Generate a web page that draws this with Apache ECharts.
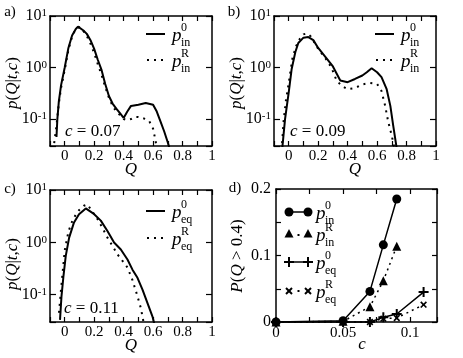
<!DOCTYPE html>
<html><head><meta charset="utf-8">
<script src="https://cdn.jsdelivr.net/npm/echarts@6/dist/echarts.min.js"></script>
<style>html,body{margin:0;padding:0;background:#fff}#c{width:463px;height:358px}</style>
</head><body><div id="c"></div>
<script>
// ---- data ----
const qA0 = [-0.056,-0.05,-0.04,-0.025,0,0.025,0.05,0.075,0.09,0.1,0.125,0.15,0.175,0.2,0.225,0.25,0.275,0.3,0.325,0.35,0.375,0.4,0.425,0.45,0.5,0.55,0.6,0.625,0.65,0.675,0.7,0.725];
const pA0 = [0.045,0.1,0.22,0.45,1.0,2.4,4.2,5.6,6.2,6.0,5.3,4.5,3.4,2.3,1.4,0.9,0.48,0.28,0.2,0.16,0.13,0.105,0.14,0.18,0.19,0.205,0.19,0.14,0.09,0.058,0.035,0.02];
const qAR = [-0.078,-0.06,-0.04,-0.025,0,0.025,0.05,0.075,0.1,0.125,0.15,0.175,0.2,0.225,0.25,0.275,0.3,0.325,0.35,0.375,0.4,0.425,0.45,0.475,0.5,0.525,0.55,0.575,0.6,0.615,0.628];
const pAR = [0.025,0.06,0.2,0.4,0.9,2.2,4.0,5.6,6.1,5.2,4.1,2.9,1.9,1.15,0.72,0.42,0.26,0.18,0.14,0.12,0.1,0.095,0.1,0.11,0.11,0.105,0.1,0.09,0.065,0.04,0.025];

const qB0 = [-0.045,-0.025,0,0.02,0.045,0.065,0.1,0.133,0.167,0.2,0.25,0.3,0.35,0.4,0.45,0.5,0.53,0.563,0.6,0.63,0.665,0.69,0.71,0.735];
const pB0 = [0.025,0.1,0.33,0.94,2.0,3.0,3.8,3.9,3.4,2.4,1.6,1.05,0.56,0.52,0.6,0.7,0.81,0.97,0.81,0.65,0.38,0.18,0.073,0.025];
const qBR = [-0.048,-0.035,-0.02,0,0.025,0.05,0.075,0.1,0.125,0.15,0.2,0.25,0.29,0.325,0.36,0.4,0.45,0.5,0.55,0.6,0.63,0.655,0.675,0.7,0.72];
const pBR = [0.025,0.09,0.22,0.5,1.5,2.6,3.6,4.4,4.6,4.0,2.3,1.5,1.0,0.56,0.44,0.38,0.4,0.47,0.5,0.48,0.35,0.18,0.09,0.047,0.025];

const qC0 = [-0.032,-0.022,-0.009,0.007,0.03,0.063,0.097,0.143,0.2,0.245,0.29,0.335,0.381,0.426,0.46,0.494,0.528,0.562,0.596,0.612];
const pC0 = [0.033,0.093,0.22,0.55,1.23,2.4,3.45,4.45,3.45,2.6,1.65,0.99,0.73,0.47,0.3,0.21,0.125,0.069,0.038,0.025];
const qCR = [-0.039,-0.027,-0.015,0,0.025,0.05,0.075,0.1,0.13,0.154,0.19,0.222,0.26,0.29,0.325,0.358,0.39,0.426,0.46,0.494,0.517,0.535];
const pCR = [0.045,0.11,0.25,0.7,1.6,2.5,3.4,4.2,5.0,5.3,3.8,2.8,1.8,1.23,0.85,0.59,0.45,0.33,0.19,0.093,0.055,0.03];

const cIn  = [0,0.05,0.07,0.08,0.09];
const pIn0 = [0,0.002,0.046,0.116,0.185];
const pInR = [0,0.001,0.023,0.062,0.114];
const cEq  = [0,0.05,0.07,0.08,0.09,0.11];
const pEq0 = [0,0,0,0.007,0.012,0.045];
const pEqR = [0,0,0,0.005,0.006,0.026];

const cValues = ['0.07','0.09','0.11'];
const qTickLabels = ['0','0.2','0.4','0.6','0.8','1'];

// ---- styling ----
const FONT = '"Liberation Serif","DejaVu Serif",serif';
const BLK = '#000';
const zip = (xs, ys) => xs.map((x, i) => [x, ys[i]]);

const grids = [
  {left: 50, top: 15, width: 162, height: 131},
  {left: 274, top: 15, width: 162, height: 131},
  {left: 50, top: 190, width: 162, height: 132},
  {left: 276, top: 189, width: 161, height: 133}
];

function near(v, step) { const k = Math.round(v / step); return Math.abs(v / step - k) < 1e-6 ? k : null; }
function qFmt(v) {
  const k = near(v, 0.2);
  if (k === null || k < 0 || k > 5) return '';
  return qTickLabels[k];
}
function logFmt(v) {
  const e = Math.log10(v), k = Math.round(e);
  if (Math.abs(e - k) > 1e-6) return '';
  return '{b|10}{s|' + k + '}';
}
const logRich = {
  b: {fontFamily: FONT, fontSize: 16, lineHeight: 16, padding: [8, 0, 0, 0], verticalAlign: 'bottom', color: BLK},
  s: {fontFamily: FONT, fontSize: 11, lineHeight: 14, verticalAlign: 'top', color: BLK}
};
const lineSt = {show: true, onZero: false, lineStyle: {color: BLK, width: 1.5}};
const tickSt = {show: true, inside: true, length: 5, lineStyle: {color: BLK, width: 1.2}};

const xAxes = [], yAxes = [];
function addQx(gi) {
  const base = {type: 'value', gridIndex: gi, min: -0.1, max: 1, interval: 0.1, splitLine: {show: false}, axisLine: lineSt, axisTick: tickSt};
  xAxes.push(Object.assign({}, base, {position: 'bottom', axisLabel: {show: true, interval: 0, formatter: qFmt, margin: 3, color: BLK, fontFamily: FONT, fontSize: 15}}));
  xAxes.push(Object.assign({}, base, {position: 'top', axisLabel: {show: false}}));
}
function addLogY(gi) {
  const base = {type: 'log', logBase: 10, gridIndex: gi, min: 0.03, max: 10, splitLine: {show: false}, axisLine: lineSt, axisTick: Object.assign({}, tickSt, {length: 6})};
  yAxes.push(Object.assign({}, base, {position: 'left', axisLabel: {show: true, formatter: logFmt, rich: logRich, margin: 3, color: BLK}}));
  yAxes.push(Object.assign({}, base, {position: 'right', axisLabel: {show: false}}));
}
addQx(0); addLogY(0);
addQx(1); addLogY(1);
addQx(2); addLogY(2);
// panel d
(function () {
  const bx = {type: 'value', gridIndex: 3, min: 0, max: 0.12, interval: 0.025, splitLine: {show: false}, axisLine: lineSt, axisTick: tickSt};
  xAxes.push(Object.assign({}, bx, {position: 'bottom', axisLabel: {show: true, interval: 0, margin: 4, color: BLK, fontFamily: FONT, fontSize: 15,
    formatter: v => { const k = near(v, 0.05); return k === null ? '' : ['0', '0.05', '0.1'][k] || ''; }}}));
  xAxes.push(Object.assign({}, bx, {position: 'top', axisLabel: {show: false}}));
  const by = {type: 'value', gridIndex: 3, min: 0, max: 0.2, interval: 0.05, splitLine: {show: false}, axisLine: lineSt, axisTick: tickSt};
  yAxes.push(Object.assign({}, by, {position: 'left', axisLabel: {show: true, interval: 0, margin: 5, color: BLK, fontFamily: FONT, fontSize: 16,
    formatter: v => { const k = near(v, 0.1); return k === null ? '' : ['0', '0.1', '0.2'][k] || ''; }}}));
  yAxes.push(Object.assign({}, by, {position: 'right', axisLabel: {show: false}}));
})();

const solid = {color: BLK, width: 2, type: 'solid'};
const dotted = {color: BLK, width: 2, type: [2, 5], cap: 'butt'};
function curve(gi, name, xs, ys, ls) {
  return {type: 'line', name, xAxisIndex: 2 * gi, yAxisIndex: 2 * gi, data: zip(xs, ys), showSymbol: false, symbol: 'none',
    lineStyle: ls, smooth: false, clip: true, animation: false};
}
const PLUS = 'path://M4,0H6V4H10V6H6V10H4V6H0V4H4Z';
function dser(name, xs, ys, ls, symbol, size, rot) {
  return {type: 'line', name, xAxisIndex: 6, yAxisIndex: 6, data: zip(xs, ys), symbol, symbolSize: size, symbolRotate: rot || 0,
    showSymbol: true, itemStyle: {color: BLK}, lineStyle: ls, clip: false, animation: false, z: 3};
}
const dSolid = {color: BLK, width: 1.5, type: 'solid'};
const dDot = {color: BLK, width: 1.5, type: [2, 4]};

const series = [
  curve(0, 'p_in^0', qA0, pA0, solid), curve(0, 'p_in^R', qAR, pAR, dotted),
  curve(1, 'p_in^0', qB0, pB0, solid), curve(1, 'p_in^R', qBR, pBR, dotted),
  curve(2, 'p_eq^0', qC0, pC0, solid), curve(2, 'p_eq^R', qCR, pCR, dotted),
  dser('p_eq^R', cEq, pEqR, dDot, PLUS, 8, 45),
  dser('p_eq^0', cEq, pEq0, dSolid, PLUS, 10, 0),
  dser('p_in^R', cIn, pInR, dDot, 'triangle', 9, 0),
  dser('p_in^0', cIn, pIn0, dSolid, 'circle', 9, 0)
];

// ---- text & legends ----
const G = [];
function txt(text, x, y, opt) {
  G.push({type: 'text', silent: true, style: Object.assign({text, x, y, fill: BLK, fontFamily: FONT, fontSize: 15, align: 'center', verticalAlign: 'middle'}, opt || {})});
}
const richIt = {
  i: {fontFamily: FONT, fontStyle: 'italic', fontSize: 17, color: BLK},
  r: {fontFamily: FONT, fontSize: 17, color: BLK}
};
function richTxt(text, x, y, opt) {
  G.push({type: 'text', silent: true, rotation: (opt && opt.rot) || 0, x, y,
    style: {text, rich: richIt, fill: BLK, fontFamily: FONT, fontSize: 17, align: (opt && opt.align) || 'center', verticalAlign: 'middle'}});
}
// panel tags
txt('a)', 10, 12); txt('b)', 234, 12); txt('c)', 10, 189); txt('d)', 235, 188);
// y names
const pName = '{i|p}{r|(}{i|Q}{r||}{i|t}{r|,}{i|c}{r|)}';
richTxt(pName, 13, 83, {rot: Math.PI / 2});
richTxt(pName, 237, 83, {rot: Math.PI / 2});
richTxt(pName, 13, 264, {rot: Math.PI / 2});
richTxt('{i|P}{r|(}{i|Q}{r| > 0.4)}', 238, 256, {rot: Math.PI / 2});
// x names
richTxt('{i|Q}', 131, 170); richTxt('{i|Q}', 355, 170); richTxt('{i|Q}', 131, 346); richTxt('{i|c}', 362, 345);
// c = value annotations
richTxt('{i|c}{r| = ' + cValues[0] + '}', 65, 132, {align: 'left'});
richTxt('{i|c}{r| = ' + cValues[1] + '}', 290, 132, {align: 'left'});
richTxt('{i|c}{r| = ' + cValues[2] + '}', 64, 309, {align: 'left'});

function pLabel(x, y, sup, sub) {
  txt('p', x, y + 2, {fontStyle: 'italic', fontSize: 19, align: 'left'});
  txt(sup, x + 9, y - 6, {fontSize: 12, align: 'left'});
  txt(sub, x + 9, y + 9, {fontSize: 12, align: 'left'});
}
function lineSample(x1, x2, y, dash) {
  G.push({type: 'line', silent: true, shape: {x1, y1: y, x2, y2: y}, style: {stroke: BLK, lineWidth: 2, lineDash: dash || null}});
}
// panel a/b/c legends
lineSample(146, 165, 34); pLabel(172, 34, '0', 'in');
lineSample(147, 165, 60, [2, 5]); pLabel(172, 60, 'R', 'in');
lineSample(375, 394, 34); pLabel(401, 34, '0', 'in');
lineSample(376, 394, 60, [2, 5]); pLabel(401, 60, 'R', 'in');
lineSample(146, 165, 211); pLabel(172, 211, '0', 'eq');
lineSample(147, 165, 238, [2, 5]); pLabel(172, 238, 'R', 'eq');
// panel d legend
function dot(x, y) { G.push({type: 'rect', silent: true, shape: {x: x - 1, y: y - 1, width: 2, height: 2}, style: {fill: BLK}}); }
function circ(x, y) { G.push({type: 'circle', silent: true, shape: {cx: x, cy: y, r: 4.5}, style: {fill: BLK}}); }
function tri(x, y) { G.push({type: 'polygon', silent: true, shape: {points: [[x, y - 5], [x - 4.5, y + 3.5], [x + 4.5, y + 3.5]]}, style: {fill: BLK}}); }
function seg(x1, y1, x2, y2, w) { G.push({type: 'line', silent: true, shape: {x1, y1, x2, y2}, style: {stroke: BLK, lineWidth: w}}); }
function plus(x, y) { seg(x - 5, y, x + 5, y, 2); seg(x, y - 5, x, y + 5, 2); }
function cross(x, y) { seg(x - 3, y - 3, x + 3, y + 3, 2); seg(x - 3, y + 3, x + 3, y - 3, 2); }
seg(289, 212, 308, 212, 1.5); circ(289, 212); circ(308, 212); pLabel(316, 212, '0', 'in');
tri(289, 234); tri(308, 234); dot(298.5, 235); pLabel(316, 234, 'R', 'in');
seg(289, 262, 308, 262, 1.5); plus(289, 262); plus(308, 262); pLabel(316, 262, '0', 'eq');
cross(289, 291); cross(308, 291); dot(298.5, 291); pLabel(316, 291, 'R', 'eq');

const chart = echarts.init(document.getElementById('c'), null, {renderer: 'canvas'});
chart.setOption({
  backgroundColor: '#fff',
  animation: false,
  grid: grids,
  xAxis: xAxes,
  yAxis: yAxes,
  series,
  graphic: G
});
</script></body></html>
